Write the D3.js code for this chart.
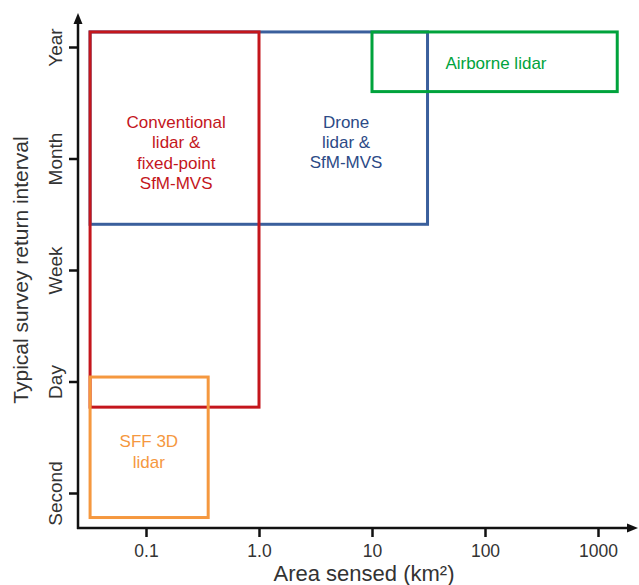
<!DOCTYPE html>
<html>
<head>
<meta charset="utf-8">
<script src="https://cdn.jsdelivr.net/npm/d3@7"></script>
<style>
  body { margin: 0; background: #fff; }
  svg { font-family: "Liberation Sans", Arial, sans-serif; }
</style>
</head>
<body>
<svg id="viz" width="639" height="585"></svg>
<script>
// tick labels
var intervals = ["Year", "Month", "Week", "Day", "Second"];
var areaTicks = [0.1, 1, 10, 100, 1000];
var areaLabels = ["0.1", "1.0", "10", "100", "1000"];

// boxes: area range (km2) and interval range (in interval index units)
var names = ["Drone", "Conventional", "Airborne", "SFF"];
var areaMin = [0.032, 0.032, 10, 0.032];
var areaMax = [31, 1, 1480, 0.355];
var intTop = [-0.135, -0.135, -0.135, 2.96];
var intBottom = [1.59, 3.23, 0.40, 4.22];
var labels = [["Drone", "lidar &", "SfM-MVS"],
              ["Conventional", "lidar &", "fixed-point", "SfM-MVS"],
              ["Airborne lidar"],
              ["SFF 3D", "lidar"]];
var labelArea = [5.9, 0.185, 125, 0.106];
var labelInt = [0.852, 0.946, 0.143, 3.628];

var strokeCol = ["#3a5f9c", "#c4161c", "#00a33c", "#f5983f"];
var textCol = ["#2c4a86", "#c4161c", "#00a33c", "#f5983f"];

var svg = d3.select("#viz");
var x = d3.scaleLog().domain([0.1, 1000]).range([146, 598]);
var y = d3.scaleLinear().domain([0, 4]).range([47, 493]);

var axisX0 = 78, axisY0 = 528;

// boxes
var boxes = svg.append("g");
names.forEach(function (n, i) {
    boxes.append("rect")
        .attr("x", x(areaMin[i]))
        .attr("y", y(intTop[i]))
        .attr("width", x(areaMax[i]) - x(areaMin[i]))
        .attr("height", y(intBottom[i]) - y(intTop[i]))
        .attr("fill", "none")
        .attr("stroke", strokeCol[i])
        .attr("stroke-width", 3);
    var t = boxes.append("text")
        .attr("text-anchor", "middle")
        .attr("fill", textCol[i])
        .attr("font-size", 17);
    var n0 = labels[i].length;
    labels[i].forEach(function (s, k) {
        t.append("tspan")
            .attr("x", x(labelArea[i]))
            .attr("y", y(labelInt[i]) + (k - (n0 - 1) / 2) * 20.3 + 6)
            .text(s);
    });
});

// x axis
var gx = svg.append("g")
    .attr("transform", "translate(0," + axisY0 + ")")
    .call(d3.axisBottom(x).tickValues(areaTicks)
        .tickFormat(function (d, i) { return areaLabels[i]; })
        .tickSize(9).tickPadding(8));
gx.select(".domain").remove();
gx.selectAll(".tick line").attr("stroke", "#111").attr("stroke-width", 2.5);
gx.selectAll(".tick text").attr("font-size", 17.5).attr("fill", "#333")
    .attr("font-family", "Liberation Sans, Arial, sans-serif");

// y axis
var gy = svg.append("g")
    .attr("transform", "translate(" + axisX0 + ",0)")
    .call(d3.axisLeft(y).tickValues([0, 1, 2, 3, 4])
        .tickFormat(function (d) { return intervals[d]; })
        .tickSize(9).tickPadding(8));
gy.select(".domain").remove();
gy.selectAll(".tick line").attr("stroke", "#111").attr("stroke-width", 2.5);
gy.selectAll(".tick text")
    .attr("font-size", 19).attr("fill", "#333")
    .attr("font-family", "Liberation Sans, Arial, sans-serif")
    .attr("text-anchor", "middle")
    .attr("transform", "rotate(-90)")
    .attr("x", 0).attr("dy", 0)
    .attr("y", -16);

// axis lines with arrows
svg.append("line").attr("x1", axisX0).attr("y1", axisY0 + 1)
    .attr("x2", axisX0).attr("y2", 20)
    .attr("stroke", "#111").attr("stroke-width", 2.5);
svg.append("line").attr("x1", axisX0 - 1).attr("y1", axisY0)
    .attr("x2", 630).attr("y2", axisY0)
    .attr("stroke", "#111").attr("stroke-width", 2.5);
svg.append("path")
    .attr("d", "M" + (axisX0 - 4.5) + ",24L" + axisX0 + ",13L" + (axisX0 + 4.5) + ",24Z")
    .attr("fill", "#111");
svg.append("path")
    .attr("d", "M627," + (axisY0 - 4.5) + "L638," + axisY0 + "L627," + (axisY0 + 4.5) + "Z")
    .attr("fill", "#111");

// axis titles
svg.append("text")
    .attr("x", 364).attr("y", 581)
    .attr("text-anchor", "middle")
    .attr("font-size", 22).attr("fill", "#333")
    .text("Area sensed (km²)");
svg.append("text")
    .attr("transform", "translate(28,270) rotate(-90)")
    .attr("text-anchor", "middle")
    .attr("font-size", 21).attr("fill", "#333")
    .text("Typical survey return interval");
</script>
</body>
</html>
